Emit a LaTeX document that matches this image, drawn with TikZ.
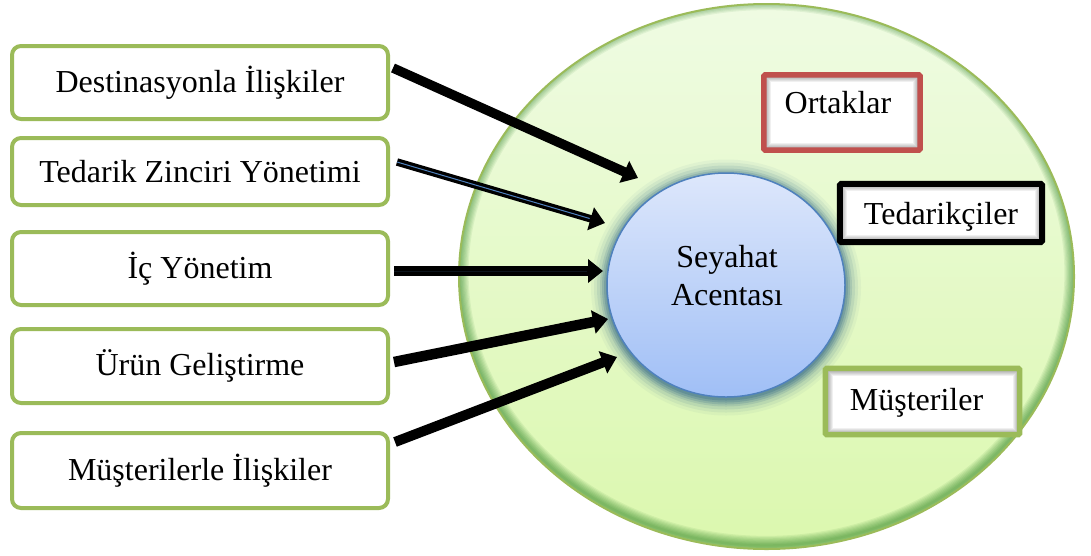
\documentclass[tikz,border=0pt]{standalone}
\usepackage{fontspec}
\setmainfont{Liberation Serif}
\usetikzlibrary{shapes.geometric,arrows.meta,calc}
\definecolor{boxgreen}{HTML}{9BBB59}
\definecolor{boxred}{HTML}{C0504D}
\definecolor{blueedge}{HTML}{4F81BD}
\definecolor{glowc}{HTML}{356A88}
\definecolor{worldtop}{HTML}{EFFBE3}
\definecolor{worldbot}{HTML}{DBF8AE}
\definecolor{ctop}{HTML}{DDE7FB}
\definecolor{cbot}{HTML}{A0BFF6}
\definecolor{arrowline}{HTML}{0C141C}
\begin{document}
\begin{tikzpicture}[x=1pt,y=-1pt,
  txt/.style={font=\fontsize{32}{38}\selectfont},
  leftbox/.style={txt, draw=boxgreen, line width=4pt, rounded corners=9pt, fill=white,
    minimum width=376pt, inner sep=0pt},
  innershade/.style={path picture={\foreach \i in {1,...,7}{\draw[black, opacity=0.06, line width=2*\i pt]
    (path picture bounding box.south west) rectangle (path picture bounding box.north east);}}},
  rbox/.style={txt, fill=white, rectangle, inner sep=0pt, innershade},
  rborder/.style={line width=#1, rounded corners=1.5pt},
  fat/.style={line width=#1, -{Triangle[width=23pt,length=15pt]}},
  worldshade/.style={path picture={\foreach \i in {1,...,8}{\draw[black!60!green, opacity=0.065, line width=2.4*\i pt]
    ([yshift=3.5pt]path picture bounding box.center) ellipse [x radius=307.5pt, y radius=272.5pt];}}},
]
\useasboundingbox (0,0) rectangle (1091,555);

% outer world
\node[ellipse, draw=boxgreen, line width=2pt, top color=worldtop, bottom color=worldbot,
  minimum width=615pt, minimum height=545pt, inner sep=0pt, worldshade] (world) at (766.5,276.5) {};

% glow around the agency
\coordinate (sac) at (726,285);
\foreach \d/\o in {16/0.05,13/0.08,10/0.11,7/0.15,5/0.2,3/0.25,1/0.3}{
  \fill[glowc, opacity=\o] ($(sac)+(0,2.5)$) ellipse [x radius={119pt+\d pt}, y radius={112pt+\d pt}];
}
\node[ellipse, draw=blueedge, line width=1.5pt, top color=ctop, bottom color=cbot,
  minimum width=238pt, minimum height=224pt, inner sep=0pt] (sa) at (sac) {};
\node[txt, align=center, inner sep=0pt] (satxt) at (727,276) {Seyahat\\Acentası};

% left boxes
\node[leftbox, minimum height=73pt] (b1) at (200,82.5) {Destinasyonla İlişkiler};
\node[leftbox, minimum height=67pt] (b2) at (200,171.5) {Tedarik Zinciri Yönetimi};
\node[leftbox, minimum height=73pt] (b3) at (200,268.5) {İç Yönetim};
\node[leftbox, minimum height=74pt] (b4) at (200,366) {Ürün Geliştirme};
\node[leftbox, minimum height=75pt] (b5) at (200,470.5) {Müşterilerle İlişkiler};

% right boxes
\node[rbox, minimum width=156pt, minimum height=75pt,
  text height=22pt, text depth=20pt] (ort) at (842,112.5) {\hspace*{-8pt}Ortaklar};
\draw[boxred, rborder=5.5pt] (ort.north west) rectangle (ort.south east);
\node[rbox, minimum width=202pt, minimum height=58pt, text height=23pt, text depth=0pt] (ted) at (941,213) {Tedarikçiler};
\draw[black, rborder=6pt] (ted.north west) rectangle (ted.south east);
\node[rbox, minimum width=194pt, minimum height=66pt, text height=22pt, text depth=5pt] (mus) at (922.5,401.5) {\hspace*{-12pt}Müşteriler};
\draw[boxgreen, rborder=5.5pt] (mus.north west) rectangle (mus.south east);

% arrows
\coordinate (s1) at ($(b1.east)+(3,-14.5)$);
\coordinate (s2) at ($(b2.east)+(7,-9.5)$);
\coordinate (s3) at ($(b3.east)+(4,2.5)$);
\coordinate (s4) at ($(b4.east)+(4,-4)$);
\coordinate (s5) at ($(b5.east)+(5,-28.5)$);
\coordinate (e1) at ($(sa.center)+(-88,-107)$);
\coordinate (e2) at ($(sa.center)+(-121,-62)$);
\coordinate (e3) at ($(sa.center)+(-123,-14)$);
\coordinate (e4) at ($(sa.center)+(-118,34)$);
\coordinate (e5) at ($(sa.center)+(-109,72)$);

\draw[fat=9.5pt] (s1) -- (e1);
\draw[fat=7.5pt] (s2) -- (e2);
\draw[blueedge, line width=1pt] (s2) -- ($(e2)!16pt!(s2)$);
\draw[fat=9.5pt] (s3) -- (e3);
\draw[arrowline, line width=0.6pt] (s3) -- ($(e3)!16pt!(s3)$);
\draw[fat=10.5pt] (s4) -- (e4);
\draw[fat=10pt] (s5) -- (e5);
\end{tikzpicture}
\end{document}
